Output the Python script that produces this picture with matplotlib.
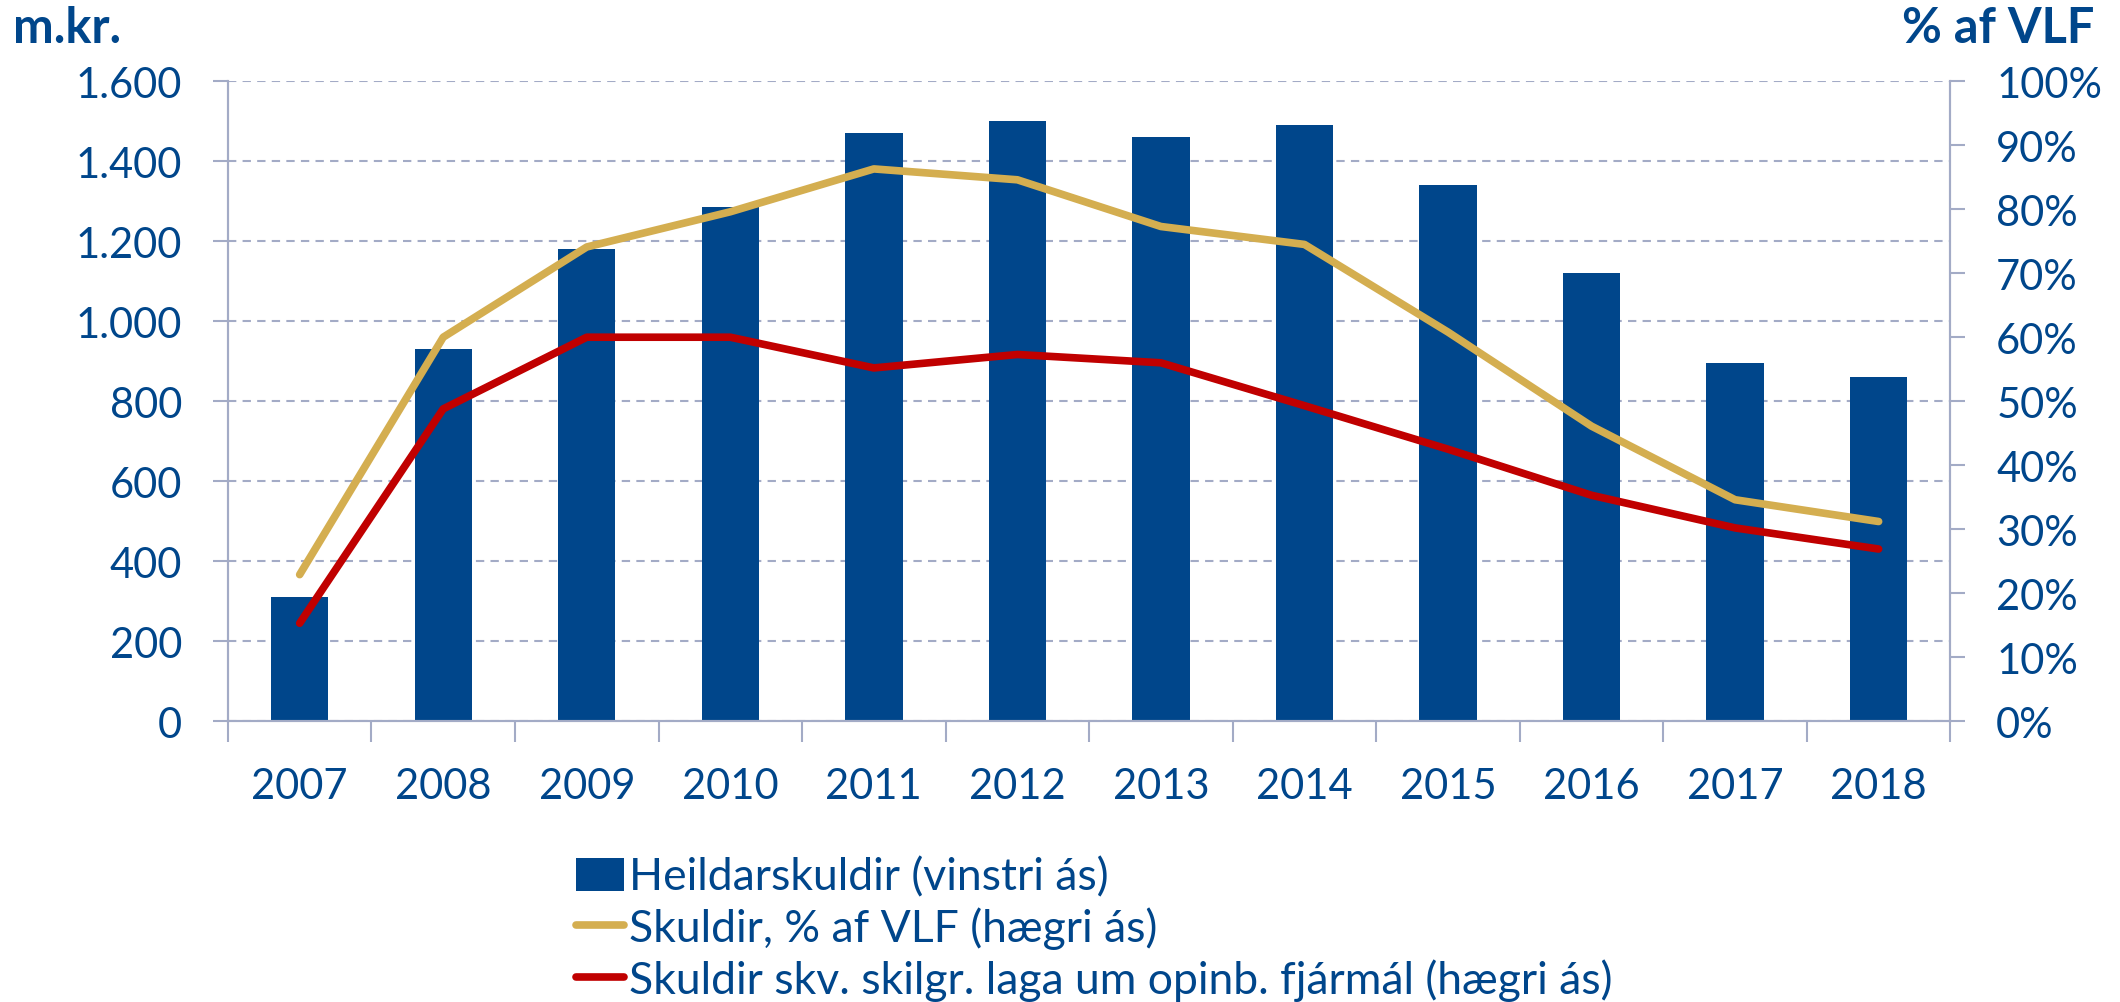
import matplotlib.pyplot as plt
from matplotlib.ticker import FuncFormatter

# Data
years = ['2007', '2008', '2009', '2010', '2011', '2012',
         '2013', '2014', '2015', '2016', '2017', '2018']
total_debt = [310, 930, 1180, 1285, 1470, 1500, 1460, 1490, 1340, 1120, 895, 860]
debt_pct_gdp = [22.9, 60.0, 74.1, 79.6, 86.3, 84.6, 77.3, 74.5, 60.8, 46.1, 34.6, 31.2]
debt_fiscal_law = [15.3, 48.8, 60.0, 60.0, 55.2, 57.3, 56.0, 49.3, 42.5, 35.3, 30.2, 26.9]

labels = ['Heildarskuldir (vinstri ás)',
          'Skuldir, % af VLF (hægri ás)',
          'Skuldir skv. skilgr. laga um opinb. fjármál (hægri ás)']

navy = '#00468B'
gold = '#D4AE50'
red = '#C00000'
axis_col = '#A3ABC6'

plt.rcParams['font.family'] = ['Lato', 'DejaVu Sans']

fig = plt.figure(figsize=(21.2, 10.03), dpi=100)
ax = fig.add_axes([0.1075, 0.280, 0.8125, 0.638])
ax2 = ax.twinx()

x = list(range(len(years)))
bars = ax.bar(x, total_debt, width=0.4, color=navy, label=labels[0], zorder=2)
l1, = ax2.plot(x, debt_pct_gdp, color=gold, lw=5.5, solid_capstyle='round',
               solid_joinstyle='round', label=labels[1])
l2, = ax2.plot(x, debt_fiscal_law, color=red, lw=5.5, solid_capstyle='round',
               solid_joinstyle='round', label=labels[2])

ax.set_xlim(-0.5, len(years) - 0.5)
ax.set_ylim(0, 1600)
ax2.set_ylim(0, 100)
ax.set_yticks(range(0, 1601, 200))
ax2.set_yticks(range(0, 101, 10))
ax.yaxis.set_major_formatter(FuncFormatter(lambda v, p: f'{int(v):,}'.replace(',', '.')))
ax2.yaxis.set_major_formatter(FuncFormatter(lambda v, p: f'{int(v)}%'))

# category labels at centres, tick marks at boundaries
ax.set_xticks(x)
ax.set_xticklabels(years)
ax.set_xticks([i - 0.5 for i in range(len(years) + 1)], minor=True)
ax.tick_params(axis='x', which='major', length=0, pad=33, labelsize=30, labelcolor=navy)
ax.tick_params(axis='x', which='minor', length=15, width=1.5, color=axis_col)
ax.tick_params(axis='y', length=11, width=1.5, color=axis_col, pad=22,
               labelsize=30, labelcolor=navy)
ax2.tick_params(axis='y', length=11, width=1.5, color=axis_col, pad=22,
                labelsize=30, labelcolor=navy)

ax.grid(axis='y', color=axis_col, linestyle=(0, (4, 3)), linewidth=1.5)
ax.set_axisbelow(True)

for a in (ax, ax2):
    a.spines['top'].set_visible(False)
    for s in ('left', 'right', 'bottom'):
        a.spines[s].set_color(axis_col)
        a.spines[s].set_linewidth(1.5)

fig.text(0.006, 0.972, 'm.kr.', fontsize=35, fontweight='bold', color=navy,
         ha='left', va='center')
fig.text(0.988, 0.972, '% af VLF', fontsize=35, fontweight='bold', color=navy,
         ha='right', va='center')

fig.legend([bars, l1, l2], labels, loc='center left', bbox_to_anchor=(0.261, 0.073),
           frameon=False, fontsize=32, labelcolor=navy, borderpad=0,
           handlelength=1.1, handleheight=0.75, handletextpad=0.1, labelspacing=0.2)

fig.savefig('out.png', dpi=100)
